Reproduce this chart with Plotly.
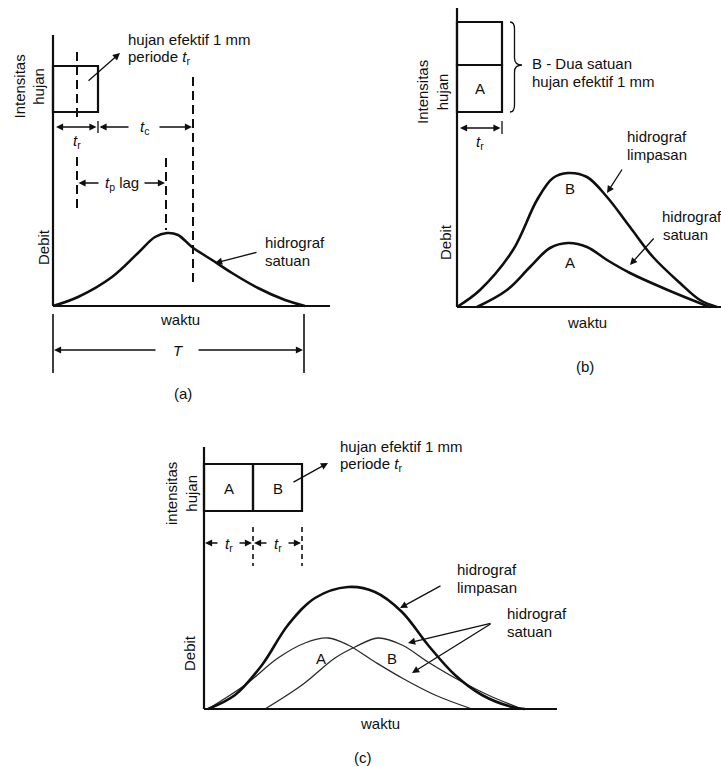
import plotly.graph_objects as go

# ---------------- data (time / discharge in arbitrary units) ----------------
# (a) unit hydrograph from 1 mm effective rain of duration tr
UH_T = [0, 2.5, 5.9, 8.5, 10.2, 11.4, 12.5, 13.9, 15.9, 17.9, 20.5, 23.2, 25.2]
UH_Q = [0, 0.9, 2.9, 5.3, 6.9, 7.3, 7.1, 5.9, 4.6, 3.3, 1.8, 0.6, 0]
RAIN_A_T = [0, 4.5]
RAIN_A_I = [19.4, 24.0]
TR_A, TP_A, TC_A, TB_A = 2.4, 11.3, 14.0, 25.1

# (b) two units of rain in one period -> runoff hydrograph B vs unit hydrograph A
RUNOFF_B_T = [0, 2.3, 5.6, 8.0, 9.6, 11.1, 13.0, 15.0, 17.3, 19.6, 22.3, 24.3, 26.0]
RUNOFF_B_Q = [0, 1.7, 5.7, 10.7, 12.9, 13.4, 13.0, 11.0, 8.0, 5.0, 2.4, 0.7, 0]
UNIT_B_T = [2.0, 5.0, 7.3, 9.3, 11.1, 13.0, 15.0, 17.3, 20.6, 24.0, 25.3]
UNIT_B_Q = [0, 1.7, 4.0, 5.9, 6.4, 6.0, 4.7, 3.4, 1.9, 0.5, 0]
RAIN_B_T = [0, 4.5]
RAIN_B_I = [19.5, 24.2, 28.5]

# (c) two successive periods A and B -> superposed runoff hydrograph
RUNOFF_C_T = [0.4, 3.1, 5.8, 8.4, 11.1, 14.4, 17.1, 19.8, 22.4, 25.1, 27.8, 30.8, 32.1]
RUNOFF_C_Q = [0, 1.4, 4.4, 8.4, 11.1, 12.2, 11.7, 9.7, 6.4, 3.4, 1.4, 0.2, 0]
UNIT_CA_T = [0.4, 4.1, 7.4, 10.1, 12.4, 14.4, 17.1, 19.8, 23.1, 26.8]
UNIT_CA_Q = [0, 2.4, 5.1, 6.6, 7.1, 6.4, 4.7, 3.1, 1.4, 0]
UNIT_CB_T = [6.1, 9.8, 13.1, 15.1, 17.4, 19.8, 22.4, 25.1, 28.4, 31.8]
UNIT_CB_Q = [0, 2.4, 5.1, 6.2, 7.1, 6.4, 4.7, 3.1, 1.4, 0]
RAIN_C_T = [0, 4.9, 9.8]
RAIN_C_I = [19.8, 24.5]

# ---------------- styling helpers ----------------
INK = "#0f0f0f"
FONT = "Liberation Sans, Arial, sans-serif"
FS = 15

fig = go.Figure()
shapes = []
annots = []


def refs(p):
    return ("x" + p, "y" + p)


def line(p, x0, y0, x1, y1, width=2.2, dash=None, color=INK):
    xr, yr = refs(p)
    d = dict(type="line", xref=xr, yref=yr, x0=x0, y0=y0, x1=x1, y1=y1,
             line=dict(color=color, width=width))
    if dash:
        d["line"]["dash"] = dash
    shapes.append(d)


def rect(p, x0, y0, x1, y1, width=2.2):
    xr, yr = refs(p)
    shapes.append(dict(type="rect", xref=xr, yref=yr, x0=x0, y0=y0, x1=x1, y1=y1,
                       line=dict(color=INK, width=width), fillcolor="rgba(0,0,0,0)"))


def text(p, x, y, s, anchor="center", angle=0, size=FS):
    xr, yr = refs(p)
    annots.append(dict(x=x, y=y, xref=xr, yref=yr, text=s, showarrow=False,
                       xanchor=anchor, yanchor="middle", textangle=angle,
                       font=dict(family=FONT, size=size, color=INK)))


def arrow(p, tail, head, both=False, width=1.3):
    xr, yr = refs(p)
    annots.append(dict(x=head[0], y=head[1], ax=tail[0], ay=tail[1],
                       xref=xr, yref=yr, axref=xr, ayref=yr, text="",
                       showarrow=True, arrowhead=2, arrowsize=1.1,
                       arrowwidth=width, arrowcolor=INK,
                       arrowside="end+start" if both else "end"))


def curve(p, t, q, width=2.4, color=INK):
    xr, yr = refs(p)
    fig.add_trace(go.Scatter(x=t, y=q, mode="lines", xaxis=xr, yaxis=yr,
                             line=dict(color=color, width=width, shape="spline",
                                       smoothing=1.0),
                             hoverinfo="skip", showlegend=False))


TR = "<i>t</i><sub>r</sub>"
DASH = "9px,5px"

# ---------------- panel (a) ----------------
P = ""
line(P, 0, 0, 0, 27.1)
line(P, 0, 0, 27.7, 0)
rect(P, RAIN_A_T[0], RAIN_A_I[0], RAIN_A_T[1], RAIN_A_I[1])
curve(P, UH_T, UH_Q, width=2.6)
line(P, TR_A, 25.4, TR_A, 18.9, width=2, dash=DASH)
line(P, TR_A, 14.9, TR_A, 9.6, width=2, dash=DASH)
line(P, TC_A, 22.9, TC_A, 2.3, width=2, dash=DASH)
line(P, TP_A, 14.8, TP_A, 7.6, width=2, dash=DASH)
# tr / tc dimension row
arrow(P, (0.15, 17.9), (RAIN_A_T[1] - 0.15, 17.9), both=True)
line(P, RAIN_A_T[1], 18.5, RAIN_A_T[1], 17.3, width=1.3)
arrow(P, (7.7, 17.9), (RAIN_A_T[1] + 0.15, 17.9))
arrow(P, (10.5, 17.9), (TC_A - 0.1, 17.9))
text(P, TR_A, 16.5, TR)
text(P, 9.1, 17.9, "<i>t</i><sub>c</sub>")
# tp lag row
arrow(P, (4.7, 12.3), (TR_A + 0.15, 12.3))
arrow(P, (9.0, 12.3), (TP_A - 0.1, 12.3))
text(P, 6.9, 12.3, "<i>t</i><sub>p</sub> lag")
# base time T
line(P, 0, -0.8, 0, -6.7, width=1.6)
line(P, TB_A, -0.8, TB_A, -6.7, width=1.6)
arrow(P, (10.4, -4.4), (0.1, -4.4))
arrow(P, (14.4, -4.4), (TB_A - 0.1, -4.4))
text(P, 12.5, -4.4, "<i>T</i>")
text(P, 12.7, -1.3, "waktu")
text(P, 13.0, -8.7, "(a)")
text(P, -2.45, 21.9, "Intensitas<br>hujan", angle=-90)
text(P, -1.0, 5.9, "Debit", angle=-90)
text(P, 7.3, 26.7, "hujan efektif 1 mm", anchor="left")
text(P, 7.3, 24.9, "periode " + TR, anchor="left")
arrow(P, (3.4, 22.4), (6.7, 25.3))
text(P, 21.0, 6.4, "hidrograf", anchor="left")
text(P, 21.0, 4.6, "satuan", anchor="left")
arrow(P, (20.5, 5.4), (16.2, 4.3))

# ---------------- panel (b) ----------------
P = "2"
line(P, 0, 0, 0, 29.9)
line(P, 0, 0, 26.4, 0)
rect(P, RAIN_B_T[0], RAIN_B_I[0], RAIN_B_T[1], RAIN_B_I[1])
rect(P, RAIN_B_T[0], RAIN_B_I[1], RAIN_B_T[1], RAIN_B_I[2])
text(P, 2.3, 21.9, "A")
shapes.append(dict(type="path", xref="x2", yref="y2", line=dict(color=INK, width=1.3),
                   path="M 5.3,28.5 Q 5.75,28.5 5.75,27.8 L 5.75,24.9 "
                        "Q 5.75,24.2 6.5,24.2 Q 5.75,24.2 5.75,23.5 "
                        "L 5.75,20.2 Q 5.75,19.5 5.3,19.5"))
text(P, 7.3, 24.4, "B - Dua satuan", anchor="left")
text(P, 7.3, 22.6, "hujan efektif 1 mm", anchor="left")
arrow(P, (0.15, 17.9), (RAIN_B_T[1] - 0.15, 17.9), both=True)
line(P, RAIN_B_T[1], 18.6, RAIN_B_T[1], 17.3, width=1.3)
text(P, 2.3, 16.5, TR)
curve(P, RUNOFF_B_T, RUNOFF_B_Q, width=2.6)
curve(P, UNIT_B_T, UNIT_B_Q, width=2.6)
text(P, 11.3, 11.9, "B")
text(P, 11.3, 4.5, "A")
text(P, 16.8, 17.1, "hidrograf", anchor="left")
text(P, 16.8, 15.3, "limpasan", anchor="left")
arrow(P, (16.6, 13.9), (15.0, 11.4))
text(P, 20.3, 9.1, "hidrograf", anchor="left")
text(P, 20.4, 7.3, "satuan", anchor="left")
arrow(P, (19.8, 7.0), (17.3, 4.2))
text(P, -2.5, 21.5, "Intensitas<br>hujan", angle=-90)
text(P, -1.2, 6.5, "Debit", angle=-90)
text(P, 13.0, -1.5, "waktu")
text(P, 12.8, -5.9, "(b)")

# ---------------- panel (c) ----------------
P = "3"
line(P, 0, 0, 0, 26.2)
line(P, 0, 0, 35.3, 0)
rect(P, RAIN_C_T[0], RAIN_C_I[0], RAIN_C_T[1], RAIN_C_I[1])
rect(P, RAIN_C_T[1], RAIN_C_I[0], RAIN_C_T[2], RAIN_C_I[1])
text(P, 2.45, 22.1, "A")
text(P, 7.35, 22.1, "B")
for tx in RAIN_C_T[1:]:
    line(P, tx, 18.2, tx, 14.3, width=1.6, dash="5px,4px")
arrow(P, (1.5, 16.6), (0.1, 16.6))
arrow(P, (3.4, 16.6), (4.8, 16.6))
arrow(P, (6.4, 16.6), (5.0, 16.6))
arrow(P, (8.3, 16.6), (9.7, 16.6))
text(P, 2.45, 16.5, TR)
text(P, 7.35, 16.5, TR)
text(P, 13.4, 26.3, "hujan efektif 1 mm", anchor="left")
text(P, 13.4, 24.5, "periode " + TR, anchor="left")
arrow(P, (8.8, 22.6), (12.4, 24.6))
curve(P, UNIT_CA_T, UNIT_CA_Q, width=1.3, color="#2a2a2a")
curve(P, UNIT_CB_T, UNIT_CB_Q, width=1.3, color="#2a2a2a")
curve(P, RUNOFF_C_T, RUNOFF_C_Q, width=2.6)
text(P, 11.7, 5.1, "A")
text(P, 18.8, 5.1, "B")
text(P, 25.1, 14.0, "hidrograf", anchor="left")
text(P, 25.1, 12.2, "limpasan", anchor="left")
arrow(P, (23.8, 12.4), (19.6, 10.1))
text(P, 30.1, 9.6, "hidrograf", anchor="left")
text(P, 30.1, 7.8, "satuan", anchor="left")
arrow(P, (28.8, 8.6), (20.4, 6.6))
arrow(P, (28.8, 8.6), (20.8, 3.6))
text(P, -2.3, 21.5, "intensitas<br>hujan", angle=-90)
text(P, -1.5, 5.6, "Debit", angle=-90)
text(P, 17.6, -1.4, "waktu")
text(P, 15.9, -4.8, "(c)")

# ---------------- layout ----------------
W, H = 721, 767
hidden = dict(visible=False, showgrid=False, zeroline=False, fixedrange=True)
fig.update_layout(
    width=W, height=H, margin=dict(l=0, r=0, t=0, b=0),
    paper_bgcolor="white", plot_bgcolor="rgba(0,0,0,0)",
    showlegend=False,
    xaxis=dict(domain=[0, 360 / W], range=[-5.3, 30.7], anchor="y", **hidden),
    yaxis=dict(domain=[1 - 400 / H, 1], range=[-9.4, 30.6], anchor="x", **hidden),
    xaxis2=dict(domain=[360 / W, 1], range=[-9.7, 26.4], anchor="y2", **hidden),
    yaxis2=dict(domain=[1 - 400 / H, 1], range=[-9.3, 30.7], anchor="x2", **hidden),
    xaxis3=dict(domain=[170 / W, 570 / W], range=[-3.4, 36.6], anchor="y3", **hidden),
    yaxis3=dict(domain=[0, 367 / H], range=[-5.8, 30.9], anchor="x3", **hidden),
    shapes=shapes, annotations=annots,
)
fig.write_html("out.html", config=dict(displayModeBar=False))
